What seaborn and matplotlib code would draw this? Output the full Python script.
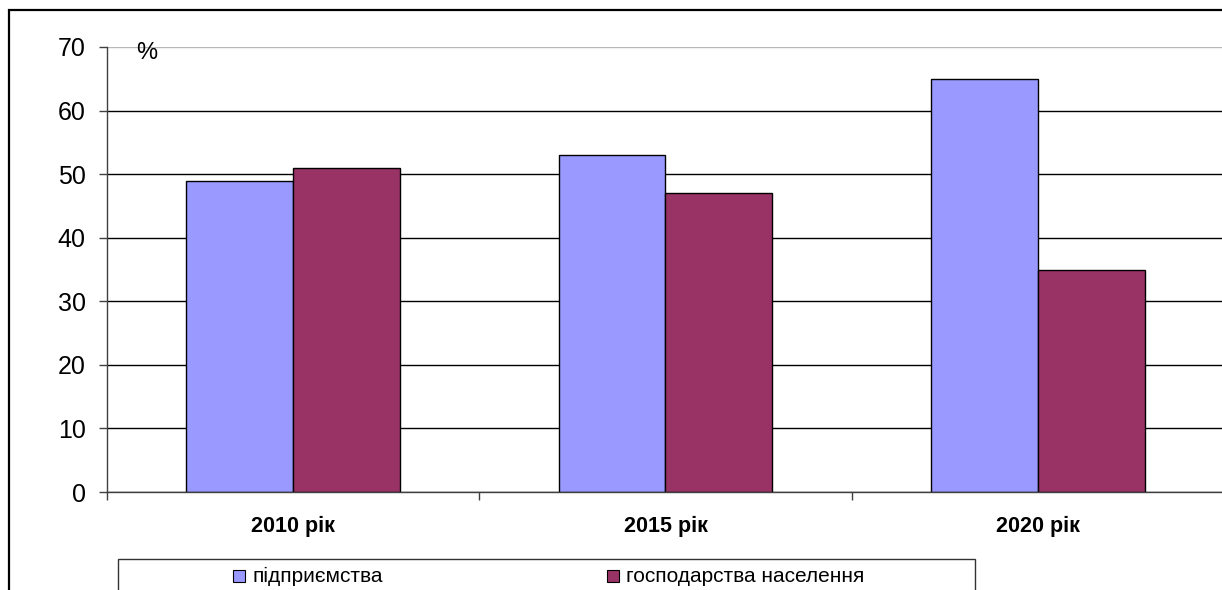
import matplotlib
matplotlib.use("Agg")
import matplotlib.pyplot as plt
from matplotlib.patches import Rectangle
import pandas as pd
import seaborn as sns

# Data
years = ["2010 рік", "2015 рік", "2020 рік"]
series_names = ["підприємства", "господарства населення"]
enterprises = [49, 53, 65]
households = [51, 47, 35]
y_ticks = [0, 10, 20, 30, 40, 50, 60, 70]
colors = ["#9999FF", "#993366"]

df = pd.DataFrame({
    "year": years * 2,
    "share": enterprises + households,
    "kind": [series_names[0]] * len(years) + [series_names[1]] * len(years),
})

sns.set_theme(style="white")
plt.rcParams["font.family"] = ["Liberation Sans", "DejaVu Sans"]

W, H = 1222, 590
fig = plt.figure(figsize=(W / 100, H / 100), dpi=100)
fig.patch.set_facecolor("white")


def fx(x):
    return x / W


def fy(y):
    return 1 - y / H


# Plot area in pixel terms: y-axis at x=107, zero at y=492, 70 at y=47
left, right, top, bottom = 107, 1224, 47, 492
ax = fig.add_axes([fx(left), fy(bottom), (right - left) / W, (bottom - top) / H])
ax.set_facecolor("white")

sns.barplot(
    data=df, x="year", y="share", hue="kind", palette=colors,
    width=0.574, saturation=1, edgecolor="black", linewidth=1.0,
    legend=False, ax=ax, errorbar=None,
)

ax.set_xlim(-0.5, len(years) - 0.5)
ax.set_ylim(0, 70)
ax.set_yticks(y_ticks)
ax.set_yticklabels([str(t) for t in y_ticks], fontsize=18, color="black")
ax.set_xlabel("")
ax.set_ylabel("")

# Horizontal gridlines behind bars
ax.set_axisbelow(True)
ax.yaxis.grid(True, color="black", linewidth=1.0)
ax.xaxis.grid(False)
gl = ax.yaxis.get_gridlines()
gl[-1].set_color("#b8b8b8")

# Category labels with boundary ticks
ax.set_xticks(range(len(years)))
ax.set_xticklabels(years, fontsize=15.5, fontweight="bold", color="black")
ax.set_xticks([i - 0.5 for i in range(len(years) + 1)], minor=True)
ax.tick_params(axis="x", which="major", length=0, pad=17)
ax.tick_params(axis="x", which="minor", length=5.8, width=1, color="#404040", direction="out", bottom=True)
ax.tick_params(axis="y", which="major", length=5.8, width=1, color="#404040", direction="out", left=True, pad=9.5)

for side in ["top", "right"]:
    ax.spines[side].set_visible(False)
ax.spines["left"].set_color("#404040")
ax.spines["left"].set_linewidth(1.0)
ax.spines["bottom"].set_color("#404040")
ax.spines["bottom"].set_linewidth(1.0)

ax.text(fx(147), fy(53), "%", transform=fig.transFigure, fontsize=17,
        ha="center", va="center", color="black")

# Outer chart frame
fig.patches.append(Rectangle((fx(9), fy(620)), fx(1240) - fx(9), fy(10) - fy(620),
                             transform=fig.transFigure, fill=False,
                             edgecolor="black", linewidth=1.6, zorder=0))

# Legend box
fig.patches.append(Rectangle((fx(118), fy(610)), fx(975) - fx(118), fy(559) - fy(610),
                             transform=fig.transFigure, fill=False,
                             edgecolor="#333333", linewidth=1.0, zorder=1))
legend_x = [233, 607]
for name, col, lx in zip(series_names, colors, legend_x):
    fig.patches.append(Rectangle((fx(lx), fy(582)), fx(lx + 12) - fx(lx), fy(570) - fy(582),
                                 transform=fig.transFigure, facecolor=col,
                                 edgecolor="black", linewidth=0.8, zorder=2))
    fig.text(fx(lx + 19), fy(576), name, fontsize=15, ha="left", va="center", color="black")

fig.savefig("out.png", dpi=100, facecolor="white")
